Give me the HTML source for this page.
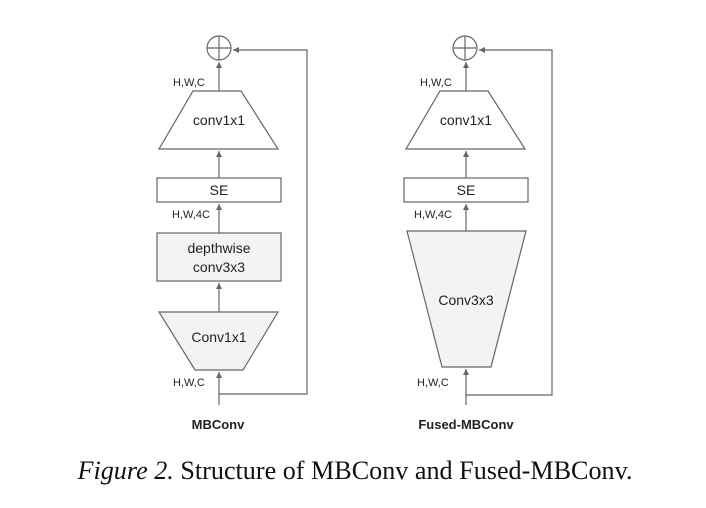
<!DOCTYPE html>
<html><head><style>body{margin:0;background:#fff}svg{display:block}</style></head><body>
<svg width="706" height="508" viewBox="0 0 706 508" xmlns="http://www.w3.org/2000/svg">
<defs><marker id="a" markerWidth="8" markerHeight="8" refX="6" refY="3" orient="auto" markerUnits="userSpaceOnUse"><path d="M0,0 L6,3 L0,6 z" fill="#666"/></marker></defs>
<g font-family="Liberation Sans, sans-serif" fill="#222" stroke-width="1.2">
<!-- left -->
<g stroke="#666" fill="none">
<circle cx="219" cy="48" r="12"/><line x1="207" y1="48" x2="231" y2="48"/><line x1="219" y1="36" x2="219" y2="60"/>
<polyline points="219,394 307,394 307,50 233,50" marker-end="url(#a)"/>
<line x1="219" y1="405" x2="219" y2="372" marker-end="url(#a)"/>
<line x1="219" y1="312" x2="219" y2="283" marker-end="url(#a)"/>
<line x1="219" y1="233" x2="219" y2="204" marker-end="url(#a)"/>
<line x1="219" y1="178" x2="219" y2="151" marker-end="url(#a)"/>
<line x1="219" y1="91" x2="219" y2="62" marker-end="url(#a)"/>
<polygon points="193,91 241,91 278,149 159,149" fill="#fff"/>
<rect x="157" y="178" width="124" height="24" fill="#fff"/>
<rect x="157" y="233" width="124" height="48" fill="#f3f3f3"/>
<polygon points="159,312 278,312 243,370 195,370" fill="#f3f3f3"/>
</g>
<g font-size="14" text-anchor="middle">
<text x="219" y="125">conv1x1</text><text x="219" y="195">SE</text>
<text x="219" y="253">depthwise</text><text x="219" y="272">conv3x3</text>
<text x="219" y="342">Conv1x1</text></g>
<g font-size="11"><text x="173" y="86">H,W,C</text><text x="172" y="218">H,W,4C</text><text x="173" y="386">H,W,C</text></g>
<text x="218" y="429" font-size="13" font-weight="bold" text-anchor="middle">MBConv</text>
<!-- right -->
<g stroke="#666" fill="none">
<circle cx="465" cy="48" r="12"/><line x1="453" y1="48" x2="477" y2="48"/><line x1="465" y1="36" x2="465" y2="60"/>
<polyline points="466,395 552,395 552,50 479,50" marker-end="url(#a)"/>
<line x1="466" y1="405" x2="466" y2="369" marker-end="url(#a)"/>
<line x1="466" y1="231" x2="466" y2="204" marker-end="url(#a)"/>
<line x1="466" y1="178" x2="466" y2="151" marker-end="url(#a)"/>
<line x1="466" y1="91" x2="466" y2="62" marker-end="url(#a)"/>
<polygon points="440,91 488,91 525,149 406,149" fill="#fff"/>
<rect x="404" y="178" width="124" height="24" fill="#fff"/>
<polygon points="407,231 526,231 491,367 442,367" fill="#f3f3f3"/>
</g>
<g font-size="14" text-anchor="middle">
<text x="466" y="125">conv1x1</text><text x="466" y="195">SE</text><text x="466" y="305">Conv3x3</text></g>
<g font-size="11"><text x="420" y="86">H,W,C</text><text x="414" y="218">H,W,4C</text><text x="417" y="386">H,W,C</text></g>
<text x="466" y="429" font-size="13" font-weight="bold" text-anchor="middle">Fused-MBConv</text>
</g>
<text x="355" y="479" font-family="Liberation Serif, serif" font-size="26" text-anchor="middle" fill="#111" textLength="555" lengthAdjust="spacingAndGlyphs"><tspan font-style="italic">Figure 2.</tspan> Structure of MBConv and Fused-MBConv.</text>
</svg>
</body></html>
